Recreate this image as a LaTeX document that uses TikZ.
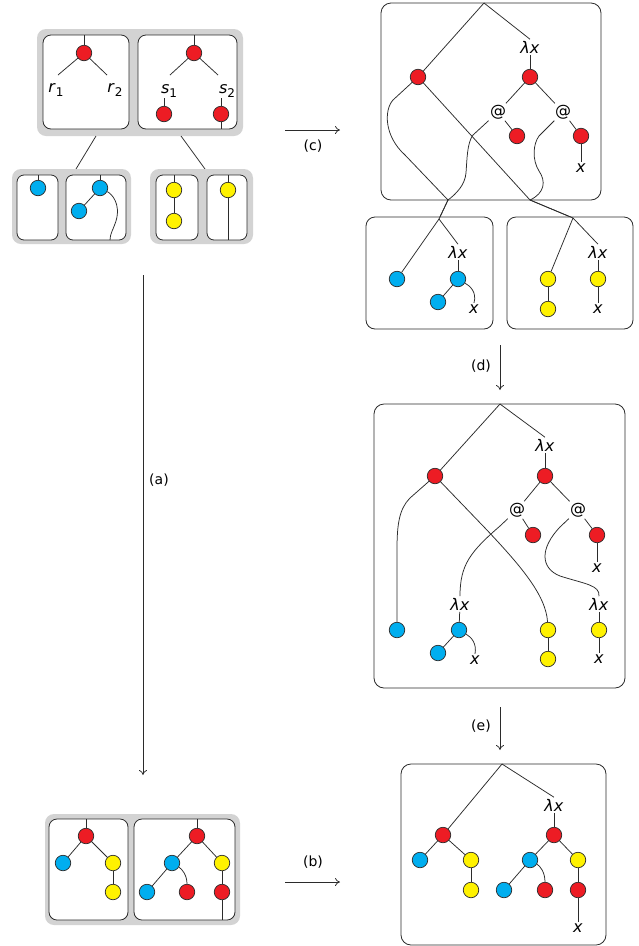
\documentclass[tikz,border=0pt]{standalone}
\usepackage{fontspec}
\setmainfont{DejaVu Sans}
\usetikzlibrary{arrows.meta}
\definecolor{cred}{HTML}{ED1C24}
\definecolor{cblue}{HTML}{00AEEF}
\definecolor{cyel}{HTML}{FFF200}
\definecolor{cgray}{HTML}{D3D3D3}
\definecolor{cline}{HTML}{2B2B2B}
\newcommand{\lx}{\textit{λx}}
\newcommand{\xx}{\textit{x}}
\newcommand{\lab}[2]{\textit{#1}\raisebox{-0.55ex}{\fontsize{12}{14}\selectfont #2}}
\begin{document}
\begin{tikzpicture}[x=1pt,y=-1pt,
  dot/.style={circle,draw=cline,line width=0.7pt,minimum size=15.5pt,inner sep=0pt},
  rd/.style={dot,fill=cred},
  bl/.style={dot,fill=cblue},
  yl/.style={dot,fill=cyel},
  lbl/.style={inner sep=1.5pt,font=\fontsize{16}{19}\selectfont},
  grp/.style={fill=cgray,rounded corners=9pt,inner sep=0pt,outer sep=0pt,anchor=north west},
  box/.style={draw=cline,fill=white,line width=0.8pt,rounded corners=8pt,inner sep=0pt,outer sep=0pt,anchor=north west},
  ln/.style={draw=cline,line width=0.75pt},
  arr/.style={draw=cline,line width=0.75pt,-{To[length=5pt,width=8pt]}},
  captxt/.style={font=\fontsize{14}{17}\selectfont,inner sep=0pt}
]
\useasboundingbox (0,0) rectangle (639,946);

% ================= top-left group =================
\node[grp,minimum width=206pt,minimum height=107pt] (gA) at (37,29) {};
\node[box,minimum width=86pt,minimum height=94pt] (bA) at (43,35) {};
\node[box,minimum width=99pt,minimum height=94pt] (bB) at (138,35) {};
\node[rd] (rA) at (84,53) {};
\node[lbl,inner sep=0pt] (r1) at (56,90) {\lab{r}{1}};
\node[lbl,inner sep=0pt] (r2) at (115,90) {\lab{r}{2}};
\coordinate (r1e) at (58,75);
\coordinate (r2e) at (107,75);
\draw[ln] (rA) -- (rA |- bA.north);
\draw[ln] (rA) -- (r1e);
\draw[ln] (rA) -- (r2e);
\node[rd] (sB) at (194,53) {};
\node[lbl,inner sep=0pt] (s1) at (169,91) {\lab{s}{1}};
\node[lbl,inner sep=0pt] (s2) at (227,91) {\lab{s}{2}};
\coordinate (s1e) at (170,75);
\coordinate (s2e) at (218,75);
\node[rd] (sB1) at (164,114) {};
\node[rd] (sB2) at (221,114) {};
\draw[ln] (sB) -- (sB |- bB.north);
\draw[ln] (sB) -- (s1e);
\draw[ln] (sB) -- (s2e);
\draw[ln] (sB1) -- (sB1 |- s1.south);
\draw[ln] (sB2) -- (sB2 |- s2.south);
\draw[ln] (sB2) -- (sB2 |- bB.south);

\coordinate (ga1) at (96,136);
\coordinate (ga2) at (181,136);
\coordinate (gb1) at (76,169);
\coordinate (gc1) at (205,169);
\draw[ln] (ga1) -- (gb1);
\draw[ln] (ga2) -- (gc1);

% lower-left (blue) group
\node[grp,minimum width=119pt,minimum height=75pt] (gB) at (12,169) {};
\node[box,minimum width=41pt,minimum height=65pt,rounded corners=7pt] (bC) at (17,175) {};
\node[box,minimum width=60pt,minimum height=65pt,rounded corners=7pt] (bD) at (66,175) {};
\node[bl] (b1) at (38,188) {};
\node[bl] (b2) at (100,188) {};
\node[bl] (b3) at (79,211) {};
\coordinate (b2e) at (110,240);
\draw[ln] (b1) -- (b1 |- bC.north);
\draw[ln] (b2) -- (b2 |- bD.north);
\draw[ln] (b2) -- (b3);
\draw[ln] (b2) .. controls (112,194) and (121,204) .. (116,221) .. controls (113,230) and (110,234) .. (b2e);

% lower-right (yellow) group
\node[grp,minimum width=103pt,minimum height=75pt] (gC) at (150,169) {};
\node[box,minimum width=42pt,minimum height=65pt,rounded corners=7pt] (bE) at (156,175) {};
\node[box,minimum width=40pt,minimum height=65pt,rounded corners=7pt] (bF) at (207,175) {};
\draw[ln] (228,175) -- (228,240);
\node[yl] (y1) at (174,190) {};
\node[yl] (y2) at (174,221) {};
\node[yl] (y3) at (228,190) {};
\draw[ln] (y1) -- (y1 |- bE.north);
\draw[ln] (y1) -- (y2);

% ================= top-right =================
\node[box,minimum width=220pt,minimum height=197pt,rounded corners=10pt] (bT) at (381,3) {};
\coordinate (T) at (484,3);
\node[rd] (R1) at (418,77) {};
\node[lbl] (L1) at (530,47) {\lx};
\node[rd] (R2) at (530,77) {};
\node[lbl] (A1) at (498,112) {@};
\node[lbl] (A2) at (563,112) {@};
\node[rd] (R3) at (517,136) {};
\node[rd] (R4) at (581,136) {};
\node[lbl] (X1) at (581,168) {\xx};
\draw[ln] (T) -- (R1);
\draw[ln] (T) -- (L1.north);
\draw[ln] (L1) -- (R2);
\draw[ln] (R2) -- (A1);
\draw[ln] (R2) -- (A2);
\draw[ln] (A1) -- (R3);
\draw[ln] (A2) -- (R4);
\draw[ln] (R4) -- (X1);

\coordinate (M1) at (448,200);
\coordinate (J1) at (439,219);
\coordinate (M2) at (530,200);
\coordinate (J2) at (573,218);
\draw[ln] (R1) -- (393,100) .. controls (384,110) and (384,136) .. (405,155) -- (M1) -- (J1);
\draw[ln] (R1) -- (M2) -- (J2);
\draw[ln] (A1) -- (473,135) .. controls (467,143) and (467,160) .. (466,173) .. controls (465,185) and (456,194) .. (M1);
\draw[ln] (A2) -- (539,136) .. controls (533,144) and (532,160) .. (539,171) .. controls (546,181) and (545,193) .. (M2);

% lower boxes
\node[box,minimum width=127pt,minimum height=112pt,rounded corners=9pt] (bL) at (366,217) {};
\node[box,minimum width=126pt,minimum height=112pt,rounded corners=9pt] (bR) at (507,217) {};
\draw[ln] (M1) -- (J1);
\draw[ln] (M2) -- (J2);
\node[bl] (B1) at (397,279) {};
\node[lbl] (L2) at (458,252) {\lx};
\node[bl] (B2) at (458,279) {};
\node[bl] (B3) at (438,302) {};
\node[lbl] (X2) at (474,309) {\xx};
\draw[ln] (J1) -- (B1);
\draw[ln] (J1) -- (L2.north);
\draw[ln] (L2) -- (B2);
\draw[ln] (B2) -- (B3);
\draw[ln] (B2) .. controls (470,286) and (477,292) .. (X2.north);

\node[yl] (Y1) at (548,279) {};
\node[yl] (Y2) at (548,309) {};
\node[lbl] (L3) at (598,252) {\lx};
\node[yl] (Y3) at (598,279) {};
\node[lbl] (X3) at (598,309) {\xx};
\draw[ln] (J2) -- (Y1);
\draw[ln] (J2) -- (L3.north);
\draw[ln] (Y1) -- (Y2);
\draw[ln] (L3) -- (Y3);
\draw[ln] (Y3) -- (X3);

% ================= middle-right =================
\node[box,minimum width=251pt,minimum height=284pt,rounded corners=10pt] (bM) at (374,404) {};
\coordinate (T2) at (500,404);
\node[rd] (R5) at (435,476) {};
\node[lbl] (L4) at (545,445) {\lx};
\node[rd] (R6) at (545,476) {};
\node[lbl] (A3) at (517,510) {@};
\node[lbl] (A4) at (578,510) {@};
\node[rd] (R7) at (533,535) {};
\node[rd] (R8) at (597,535) {};
\node[lbl] (X4) at (597,568) {\xx};
\node[bl] (B4) at (397,630) {};
\node[lbl] (L5) at (460,604) {\lx};
\node[bl] (B5) at (459,630) {};
\node[bl] (B6) at (438,653) {};
\node[lbl] (X5) at (475,660) {\xx};
\node[yl] (Y4) at (548,630) {};
\node[yl] (Y5) at (548,659) {};
\node[lbl] (L6) at (599,604) {\lx};
\node[yl] (Y6) at (599,630) {};
\node[lbl] (X6) at (599,659) {\xx};
\draw[ln] (T2) -- (R5);
\draw[ln] (T2) -- (L4.north);
\draw[ln] (L4) -- (R6);
\draw[ln] (R6) -- (A3);
\draw[ln] (R6) -- (A4);
\draw[ln] (A3) -- (R7);
\draw[ln] (A4) -- (R8);
\draw[ln] (R8) -- (X4);
\draw[ln] (R5) -- (410,498) .. controls (399,509) and (397,525) .. (397,550) -- (B4);
\draw[ln] (R5) -- (485,528) .. controls (520,565) and (546,595) .. (Y4);
\draw[ln] (A3) -- (500,526) .. controls (470,552) and (460,565) .. (L5.north);
\draw[ln] (A4) -- (560,527) .. controls (540,548) and (540,568) .. (560,576) .. controls (585,584) and (600,585) .. (L6.north);
\draw[ln] (L5) -- (B5);
\draw[ln] (B5) -- (B6);
\draw[ln] (B5) .. controls (471,637) and (477,643) .. (X5.north);
\draw[ln] (Y4) -- (Y5);
\draw[ln] (L6) -- (Y6);
\draw[ln] (Y6) -- (X6);

% ================= bottom-right =================
\node[box,minimum width=205pt,minimum height=181pt,rounded corners=10pt] (bN) at (401,764) {};
\coordinate (T3) at (502,764);
\node[rd] (R9) at (443,835) {};
\node[lbl] (L7) at (554,805) {\lx};
\node[rd] (R10) at (554,835) {};
\node[bl] (B7) at (420,860) {};
\node[yl] (Y7) at (471,860) {};
\node[yl] (Y8) at (471,890) {};
\node[bl] (B8) at (530,860) {};
\node[yl] (Y9) at (578,860) {};
\node[bl] (B9) at (504,890) {};
\node[rd] (R11) at (545,890) {};
\node[rd] (R12) at (578,890) {};
\node[lbl] (X7) at (578,928) {\xx};
\draw[ln] (T3) -- (R9);
\draw[ln] (T3) -- (L7.north);
\draw[ln] (L7) -- (R10);
\draw[ln] (R9) -- (B7);
\draw[ln] (R9) -- (Y7);
\draw[ln] (Y7) -- (Y8);
\draw[ln] (R10) -- (B8);
\draw[ln] (R10) -- (Y9);
\draw[ln] (B8) -- (B9);
\draw[ln] (B8) .. controls (540,866) and (545,872) .. (R11);
\draw[ln] (Y9) -- (R12);
\draw[ln] (R12) -- (X7);

% ================= bottom-left =================
\node[grp,minimum width=195pt,minimum height=111pt] (gD) at (45,814) {};
\node[box,minimum width=79pt,minimum height=101pt] (bG) at (49,819) {};
\node[box,minimum width=101pt,minimum height=101pt] (bH) at (134,819) {};
\node[rd] (R13) at (86,836) {};
\node[bl] (B10) at (63,863) {};
\node[yl] (Y10) at (113,863) {};
\node[yl] (Y11) at (113,892) {};
\draw[ln] (R13) -- (R13 |- bG.north);
\draw[ln] (R13) -- (B10);
\draw[ln] (R13) -- (Y10);
\draw[ln] (Y10) -- (Y11);
\node[rd] (R14) at (197,836) {};
\node[bl] (B11) at (172,863) {};
\node[yl] (Y12) at (222,863) {};
\node[bl] (B12) at (147,892) {};
\node[rd] (R15) at (187,892) {};
\node[rd] (R16) at (222,892) {};
\draw[ln] (R14) -- (R14 |- bH.north);
\draw[ln] (R14) -- (B11);
\draw[ln] (R14) -- (Y12);
\draw[ln] (B11) -- (B12);
\draw[ln] (B11) .. controls (182,869) and (187,875) .. (R15);
\draw[ln] (Y12) -- (R16);
\draw[ln] (R16) -- (R16 |- bH.south);

% ================= arrows =================
\coordinate (ca) at (285,130); \coordinate (cb) at (340,130);
\draw[arr] (ca) -- (cb);
\node[captxt] (lc) at (313,146) {(c)};
\coordinate (aa) at (143,275); \coordinate (ab) at (143,775);
\draw[arr] (aa) -- (ab);
\node[captxt] (la) at (159,480) {(a)};
\coordinate (ba) at (285,882); \coordinate (bb) at (340,882);
\draw[arr] (ba) -- (bb);
\node[captxt] (lb) at (313,862) {(b)};
\coordinate (da) at (500,345); \coordinate (db) at (500,390);
\draw[arr] (da) -- (db);
\node[captxt] (ld) at (481,366) {(d)};
\coordinate (ea) at (500,707); \coordinate (eb) at (500,750);
\draw[arr] (ea) -- (eb);
\node[captxt] (le) at (481,726) {(e)};
\end{tikzpicture}
\end{document}
